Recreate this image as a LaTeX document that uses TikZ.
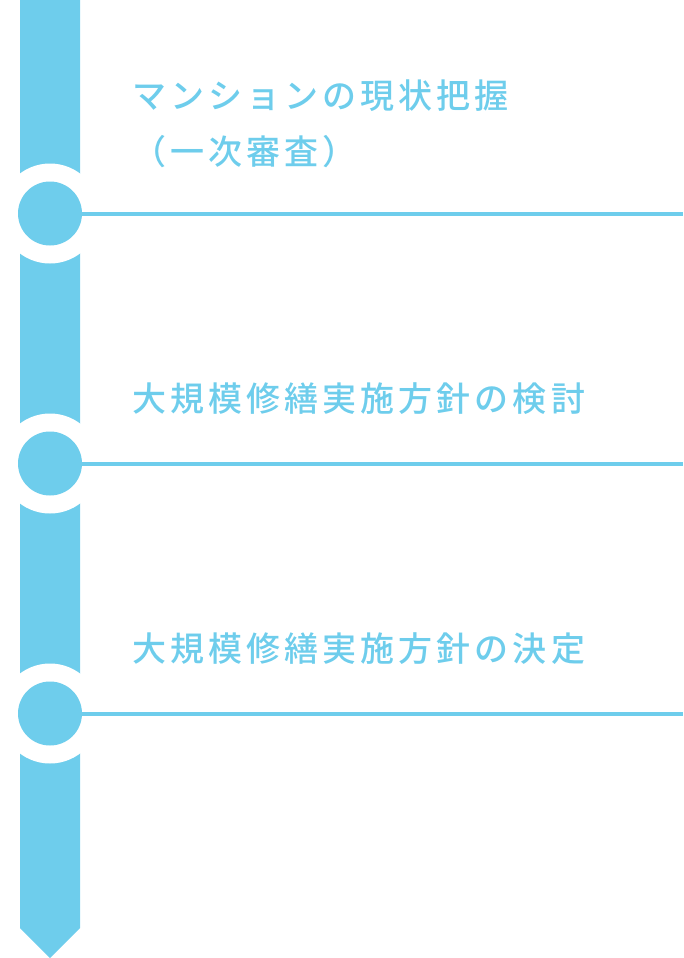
\documentclass[tikz,border=0pt]{standalone}
\usepackage{fontspec}
\newfontfamily\jp[LetterSpace=12]{Noto Sans CJK JP Medium}
\definecolor{sky}{RGB}{110,205,236}
\begin{document}
\begin{tikzpicture}[x=1pt,y=-1pt,
  ring/.style={circle,fill=white,minimum size=100pt,inner sep=0pt},
  dot/.style={circle,fill=sky,minimum size=64pt,inner sep=0pt},
  rule/.style={draw=sky,line width=4pt},
  label/.style={anchor=west,inner sep=0pt,text=sky,font=\jp\fontsize{34pt}{56pt}\selectfont,align=left}]
\useasboundingbox (0,0) rectangle (683,958);
\fill[sky] (20,0) -- (80,0) -- (80,928) -- (50,958) -- (20,928) -- cycle;
\foreach \n/\y in {a/213.5,b/463.5,c/713.5}{
  \node[ring] (r\n) at (50,\y) {};
  \node[dot] (d\n) at (50,\y) {};
  \coordinate (e\n) at (683,\y);
  \draw[rule] (d\n.east) -- (e\n);
}
\node[label] (t1) at (132,124) {マンションの現状把握\\（一次審査）};
\node[label] (t2) at (132,398.5) {大規模修繕実施方針の検討};
\node[label] (t3) at (132,648.5) {大規模修繕実施方針の決定};
\end{tikzpicture}
\end{document}
